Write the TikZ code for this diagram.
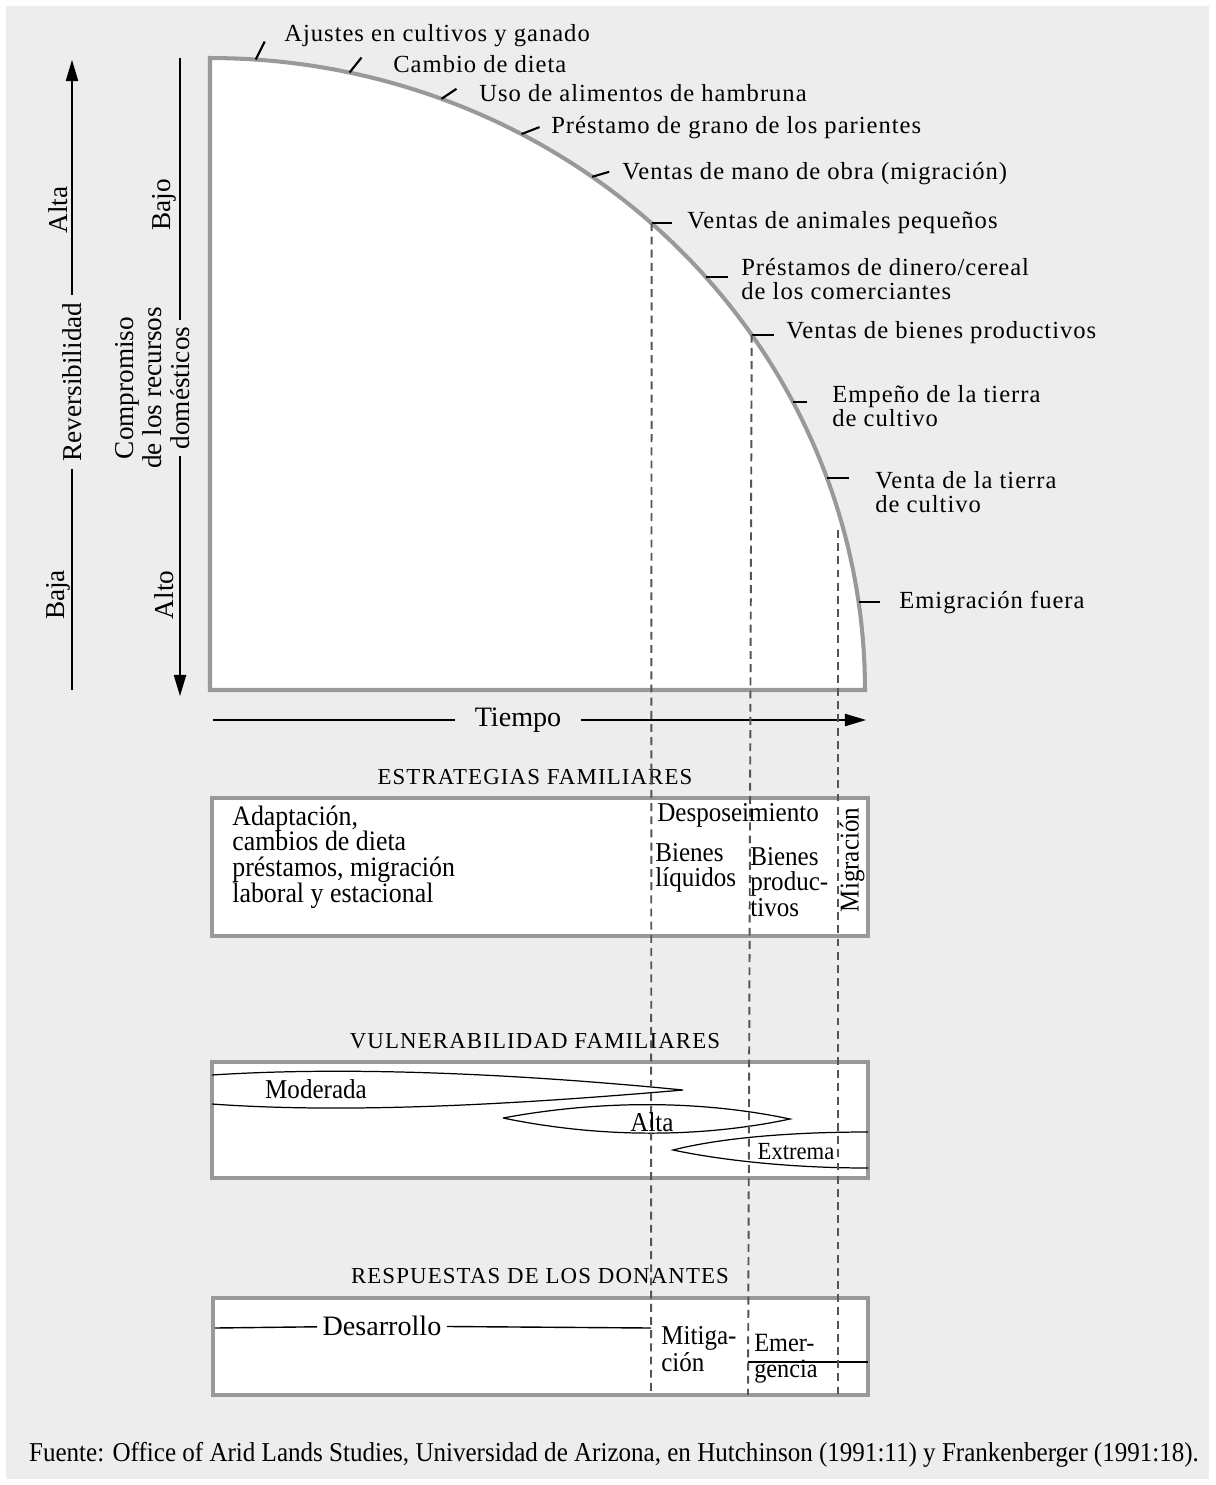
\documentclass[tikz,border=0pt]{standalone}
\usepackage{fontspec}
\setmainfont{Liberation Serif}
\newfontfamily\spacedserif[LetterSpace=4]{Liberation Serif}
\newfontfamily\titleserif[LetterSpace=5]{Liberation Serif}
\newfontfamily\narrowserif[FakeStretch=0.92]{Liberation Serif}
\usetikzlibrary{arrows.meta}

\definecolor{bggray}{HTML}{EDEDED}
\definecolor{framegray}{HTML}{999999}
\definecolor{dashgray}{HTML}{555555}

\begin{document}
\begin{tikzpicture}[x=0.02cm,y=-0.02cm,
    frame/.style={draw=framegray,line width=1.8pt,fill=white},
    bigframe/.style={draw=framegray,line width=2.3pt,fill=white,line join=miter},
    tickline/.style={line width=1.2pt},
    guide/.style={draw=dashgray,line width=1.1pt,dash pattern=on 4.5pt off 3pt},
    curvelabel/.style={anchor=west,align=left,inner sep=0pt,font=\spacedserif\fontsize{14}{13.6}\selectfont},
    title/.style={inner sep=0pt,font=\titleserif\fontsize{13}{15}\selectfont},
    txt/.style={inner sep=0pt,align=left,font=\narrowserif\fontsize{15.5}{14.4}\selectfont},
    axislabel/.style={rotate=90,inner sep=4pt,font=\fontsize{15.5}{16}\selectfont},
    axisarrow/.style={line width=0.8pt,-{Triangle[length=12pt,width=7pt]}}]

% background
\useasboundingbox (0,0) rectangle (1215,1485);
\fill[white] (0,0) rectangle (1215,1485);
\fill[bggray] (6,6) rectangle (1209,1479);

% main figure
\draw[bigframe] (210,690) -- (210,58) -- plot[domain=90:0,samples=90] ({210+655*cos(\x)},{690-632*sin(\x)}) -- cycle;

% points on the curve
\coordinate (p1) at ({210+655*cos(86)},{690-632*sin(86)});
\coordinate (p2) at ({210+655*cos(77.7)},{690-632*sin(77.7)});
\coordinate (p3) at ({210+655*cos(69.3)},{690-632*sin(69.3)});
\coordinate (p4) at ({210+655*cos(61.6)},{690-632*sin(61.6)});
\coordinate (p5) at ({210+655*cos(54.3)},{690-632*sin(54.3)});
\coordinate (p6) at ({210+655*cos(47.6)},{690-632*sin(47.6)});
\coordinate (p7) at ({210+655*cos(40.8)},{690-632*sin(40.8)});
\coordinate (p8) at ({210+655*cos(34.2)},{690-632*sin(34.2)});
\coordinate (p9) at ({210+655*cos(27.1)},{690-632*sin(27.1)});
\coordinate (p10) at ({210+655*cos(19.6)},{690-632*sin(19.6)});
\coordinate (p11) at ({210+655*cos(8)},{690-632*sin(8)});

\node[curvelabel] (ajustes) at (284,36) {Ajustes en cultivos y ganado};
\node[curvelabel] (dieta) at (393,64) {Cambio de dieta};
\node[curvelabel] (hambruna) at (479,93) {Uso de alimentos de hambruna};
\node[curvelabel] (parientes) at (551,128) {Préstamo de grano de los parientes};
\node[curvelabel] (manoobra) at (622,174) {Ventas de mano de obra (migración)};
\node[curvelabel] (animales) at (687,223) {Ventas de animales pequeños};
\node[curvelabel] (comerciantes) at (741,279) {Préstamos de dinero/cereal\\de los comerciantes};
\node[curvelabel] (bienes) at (786,333) {Ventas de bienes productivos};
\node[curvelabel] (empeno) at (832,406) {Empeño de la tierra\\de cultivo};
\node[curvelabel] (ventatierra) at (875,492) {Venta de la tierra\\de cultivo};
\node[curvelabel] (emigracion) at (899,602) {Emigración fuera};

\draw[tickline] (p1) -- ++(9,-18);
\draw[tickline] (p2) -- ++(12,-15);
\draw[tickline] (p3) -- ++(15,-10);
\draw[tickline] (p4) -- ++(18,-7);
\draw[tickline] (p5) -- ++(17,-5);
\draw[tickline] (p6) -- ++(20,0);
\draw[tickline] (p7) -- ++(22,0);
\draw[tickline] (p8) -- ++(22,0);
\draw[tickline] (p9) -- ++(14,0);
\draw[tickline] (p10) -- ++(22,0);
\draw[tickline] (p11) -- ++(21,0);

% left axes
\coordinate (revbot) at (72,690);
\coordinate (revtop) at (72,60);
\node[axislabel] (rev) at (72,382) {Reversibilidad};
\node[axislabel,inner sep=0pt] (baja) at (58,595) {Baja};
\node[axislabel,inner sep=0pt] (alta) at (58,210) {Alta};
\draw[line width=0.8pt] (revbot) -- (rev);
\draw[axisarrow] (rev) -- (revtop);

\coordinate (comtop) at (180,58);
\coordinate (combot) at (180,696);
\coordinate (comgapa) at (180,320);
\coordinate (comgapb) at (180,456);
\node[axislabel,align=center,inner sep=2pt] (comp) at (153,388) {Compromiso\\de los recursos\\domésticos};
\node[axislabel,inner sep=0pt] (bajo) at (164,205) {Bajo};
\node[axislabel,inner sep=0pt] (alto) at (164,595) {Alto};
\draw[line width=0.8pt] (comtop) -- (comgapa);
\draw[axisarrow] (comgapb) -- (combot);

% time axis
\coordinate (tleft) at (213,720);
\coordinate (tright) at (866,720);
\node[inner ysep=2pt,inner xsep=11pt,font=\fontsize{16}{18}\selectfont] (tiempo) at (518,720) {Tiempo};
\draw[line width=0.8pt] (tleft) -- (tiempo);
\draw[axisarrow] (tiempo) -- (tright);

% boxes
\node[title] (estrategias) at (535,777) {ESTRATEGIAS FAMILIARES};
\draw[frame] (212,798) rectangle (868,936);
\node[title] (vulnerabilidad) at (535,1041) {VULNERABILIDAD FAMILIARES};
\draw[frame] (212,1062) rectangle (868,1178);
\node[title] (respuestas) at (540,1276) {RESPUESTAS DE LOS DONANTES};
\draw[frame] (213,1298) rectangle (868,1395);

% vulnerability shapes
\draw[line width=0.7pt] (212,1075) .. controls (350,1066) and (520,1074) .. (683,1090) .. controls (520,1104) and (350,1114) .. (212,1104);
\draw[line width=0.7pt] (503,1118) .. controls (600,1100) and (700,1100) .. (790,1119) .. controls (700,1138) and (600,1138) .. (503,1118);
\draw[line width=0.7pt] (868,1132) .. controls (790,1132) and (720,1138) .. (673,1150) .. controls (720,1160) and (790,1168) .. (868,1168);

% responses separators
\coordinate (dleft) at (215,1328);
\coordinate (dright) at (651,1328);
\node[inner sep=3pt,font=\fontsize{16}{18}\selectfont] (desarrollo) at (382,1326) {Desarrollo};
\draw[line width=0.8pt] (dleft) -- (desarrollo) -- (dright);
\draw[line width=0.8pt] (748,1362) -- (868,1362);

% dashed guides
\coordinate (g1) at (651,1395);
\coordinate (g2) at (748,1395);
\coordinate (g3top) at (838,530);
\coordinate (g3) at (838,1395);
\draw[guide] (p6) -- (g1);
\draw[guide] (p8) -- (g2);
\draw[guide] (g3top) -- (g3);

% texts in boxes
\node[txt,anchor=west,font=\narrowserif\fontsize{16}{14.6}\selectfont] (adaptacion) at (232,857) {Adaptación,\\cambios de dieta\\préstamos, migración\\laboral y estacional};
\node[txt,anchor=west] (desposeimiento) at (657,815) {Desposeimiento};
\node[txt,anchor=west] (liquidos) at (655,868) {Bienes\\líquidos};
\node[txt,anchor=west] (productivos) at (750,882) {Bienes\\produc-\\tivos};
\node[txt,rotate=90] (migracion) at (852,860) {Migración};

\node[txt] (moderada) at (316,1089) {Moderada};
\node[txt] (altav) at (652,1122) {Alta};
\node[txt,font=\narrowserif\fontsize{14}{15}\selectfont] (extrema) at (796,1152) {Extrema};

\node[txt,anchor=west,font=\narrowserif\fontsize{15.5}{13.2}\selectfont] (mitigacion) at (661,1349) {Mitiga-\\ción};
\node[txt,anchor=west,font=\narrowserif\fontsize{15}{14.6}\selectfont] (emergencia) at (754,1359) {Emer-\\gencia};

% source
\node[txt,font=\narrowserif\fontsize{15.5}{17}\selectfont] (fuente) at (614,1455) {Fuente: Office of Arid Lands Studies, Universidad de Arizona, en Hutchinson (1991:11) y Frankenberger (1991:18).};
\end{tikzpicture}
\end{document}
